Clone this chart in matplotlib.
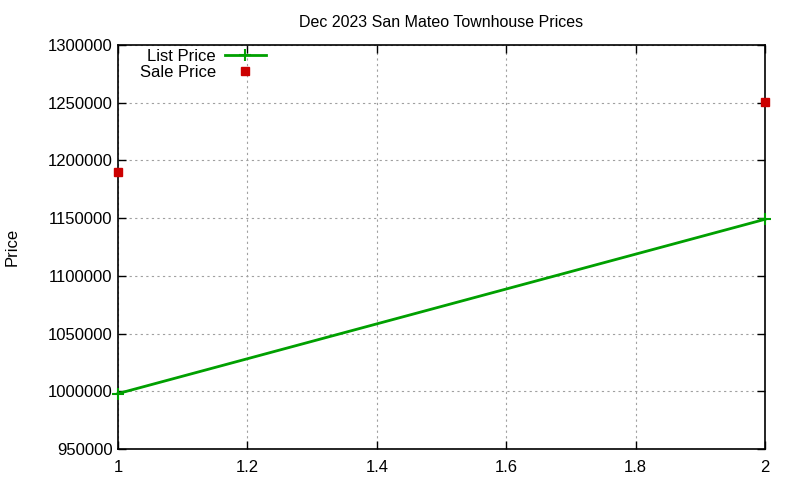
import matplotlib
matplotlib.use("Agg")
import matplotlib.pyplot as plt
from matplotlib.ticker import MultipleLocator, FuncFormatter

x_list = [1, 2]
list_price = [998000, 1149000]
x_sale = [1, 2]
sale_price = [1190000, 1251000]

title = "Dec 2023 San Mateo Townhouse Prices"
ylabel = "Price"

plt.rcParams['font.family'] = ['Liberation Sans', 'DejaVu Sans']

fig = plt.figure(figsize=(8, 4.8), dpi=100)
ax = fig.add_axes([118/800, 1-449/480, (765-118)/800, (449-45)/480])

ax.plot(x_list, list_price, color='#00a000', lw=2, marker='+', ms=9, mew=1.5,
        label='List Price', clip_on=False, zorder=3)
ax.plot(x_sale, sale_price, ls='none', color='#cc0000', marker='s', ms=6,
        label='Sale Price', clip_on=False, zorder=3)

ax.set_xlim(1, 2)
ax.set_ylim(950000, 1300000)
ax.xaxis.set_major_locator(MultipleLocator(0.2))
ax.yaxis.set_major_locator(MultipleLocator(50000))
ax.xaxis.set_major_formatter(FuncFormatter(lambda v, p: f"{v:g}"))
ax.yaxis.set_major_formatter(FuncFormatter(lambda v, p: f"{v:.0f}"))
ax.tick_params(direction='in', top=True, right=True, length=6, width=1,
               labelsize=12, colors='black')
ax.tick_params(axis='y', pad=4)
ax.tick_params(axis='x', pad=8)
ax.grid(True, color='#a0a0a0', ls=(0, (2, 3)), lw=0.8)
for s in ax.spines.values():
    s.set_linewidth(1.2)

ax.set_title(title, fontsize=11.5, pad=13)
ax.set_ylabel(ylabel, fontsize=12, labelpad=20)

leg = ax.legend(loc='upper left', bbox_to_anchor=(0.021, 1.01), frameon=False,
                markerfirst=False, fontsize=12, handlelength=2.45,
                borderaxespad=0.1, labelspacing=0.05, handletextpad=0.54)
for t in leg.get_texts():
    t.set_ha('right')
leg._legend_box.align = 'right'

fig.savefig('out.png', dpi=100)
